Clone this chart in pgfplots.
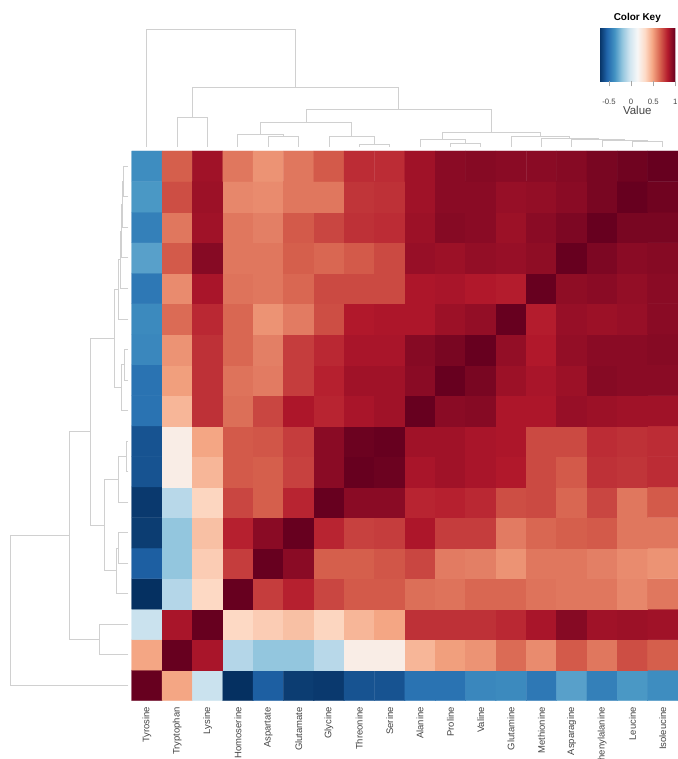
\documentclass[border=0pt]{standalone}
\usepackage{fontspec}
\setmainfont{Liberation Sans}
\usepackage{pgfplots}
\pgfplotsset{compat=1.18}
\definecolor{dendro}{HTML}{D0D0D0}
\definecolor{lab}{HTML}{444444}
\pgfplotsset{dend/.style={draw=dendro, line width=0.9bp, mark=none, line join=miter}}
\begin{document}
\begin{tikzpicture}
\useasboundingbox (0,0) rectangle (678bp,759bp);
% ---------------- heatmap ----------------
\begin{axis}[
  name=main,
  at={(131.7bp,58.3bp)}, anchor=south west,
  scale only axis, width=546.3bp, height=549.7bp,
  xmin=0.5, xmax=18.5, ymin=0.5, ymax=18.5,
  xtick={1,...,18},
  xticklabels={Tyrosine,Tryptophan,Lysine,Homoserine,Aspartate,Glutamate,Glycine,Threonine,Serine,Alanine,Proline,Valine,Glutamine,Methionine,Asparagine,Phenylalanine,Leucine,Isoleucine},
  ytick=\empty,
  xticklabel style={rotate=90, anchor=east, font=\fontsize{9.5}{10}\selectfont, text=lab},
  xticklabel shift=3bp,
  tick style={draw=none},
  axis line style={draw=none},
  colormap={rdbu}{rgb255=(5,48,97) rgb255=(33,102,172) rgb255=(67,147,195) rgb255=(146,197,222) rgb255=(209,229,240) rgb255=(247,247,247) rgb255=(253,219,199) rgb255=(244,165,130) rgb255=(214,96,77) rgb255=(178,24,43) rgb255=(103,0,31)},
  point meta min=-0.72, point meta max=1,
  colorbar horizontal,
  colorbar/width=53.4bp,
  colorbar style={
    at={(parent axis.north east)}, anchor=south east, xshift=-2.7bp, yshift=78bp,
    scale only axis, width=76bp,
    xtick={-0.5,0,0.5,1},
    xtick pos=left,
    xticklabel style={font=\fontsize{7.8}{8}\selectfont, text=lab},
    xticklabel shift=9bp,
    /pgf/number format/assume math mode=true,
    xtick align=outside, major tick length=5bp, tick style={draw=black!35, line width=0.7bp},
    axis line style={draw=none},
    xlabel={Value}, xlabel style={font=\fontsize{11.5}{12}\selectfont, text=lab, yshift=5bp},
    title={Color Key}, title style={font=\bfseries\fontsize{10}{11}\selectfont, yshift=-4bp},
  },
]
\addplot[matrix plot*, mesh/cols=18, point meta=explicit] coordinates {
(1,1)[1.00] (2,1)[0.48] (3,1)[-0.05] (4,1)[-0.72] (5,1)[-0.57] (6,1)[-0.68] (7,1)[-0.69] (8,1)[-0.61] (9,1)[-0.61] (10,1)[-0.50] (11,1)[-0.50] (12,1)[-0.42] (13,1)[-0.41] (14,1)[-0.48] (15,1)[-0.33] (16,1)[-0.45] (17,1)[-0.36] (18,1)[-0.40]

(1,2)[0.48] (2,2)[1.00] (3,2)[0.85] (4,2)[-0.11] (5,2)[-0.20] (6,2)[-0.20] (7,2)[-0.10] (8,2)[0.20] (9,2)[0.20] (10,2)[0.43] (11,2)[0.50] (12,2)[0.53] (13,2)[0.63] (14,2)[0.55] (15,2)[0.67] (16,2)[0.60] (17,2)[0.70] (18,2)[0.66]

(1,3)[-0.05] (2,3)[0.85] (3,3)[1.00] (4,3)[0.32] (5,3)[0.36] (6,3)[0.40] (7,3)[0.33] (8,3)[0.43] (9,3)[0.48] (10,3)[0.77] (11,3)[0.77] (12,3)[0.77] (13,3)[0.79] (14,3)[0.85] (15,3)[0.93] (16,3)[0.87] (17,3)[0.88] (18,3)[0.87]

(1,4)[-0.72] (2,4)[-0.11] (3,4)[0.32] (4,4)[1.00] (5,4)[0.74] (6,4)[0.81] (7,4)[0.72] (8,4)[0.67] (9,4)[0.67] (10,4)[0.62] (11,4)[0.61] (12,4)[0.64] (13,4)[0.64] (14,4)[0.61] (15,4)[0.60] (16,4)[0.60] (17,4)[0.56] (18,4)[0.60]

(1,5)[-0.57] (2,5)[-0.20] (3,5)[0.36] (4,5)[0.74] (5,5)[1.00] (6,5)[0.92] (7,5)[0.66] (8,5)[0.66] (9,5)[0.68] (10,5)[0.72] (11,5)[0.59] (12,5)[0.58] (13,5)[0.53] (14,5)[0.60] (15,5)[0.60] (16,5)[0.58] (17,5)[0.55] (18,5)[0.53]

(1,6)[-0.68] (2,6)[-0.20] (3,6)[0.40] (4,6)[0.81] (5,6)[0.92] (6,6)[1.00] (7,6)[0.80] (8,6)[0.73] (9,6)[0.74] (10,6)[0.84] (11,6)[0.74] (12,6)[0.74] (13,6)[0.59] (14,6)[0.64] (15,6)[0.66] (16,6)[0.67] (17,6)[0.60] (18,6)[0.60]

(1,7)[-0.69] (2,7)[-0.10] (3,7)[0.33] (4,7)[0.72] (5,7)[0.66] (6,7)[0.80] (7,7)[1.00] (8,7)[0.92] (9,7)[0.92] (10,7)[0.80] (11,7)[0.81] (12,7)[0.79] (13,7)[0.70] (14,7)[0.71] (15,7)[0.64] (16,7)[0.72] (17,7)[0.60] (18,7)[0.67]

(1,8)[-0.61] (2,8)[0.20] (3,8)[0.43] (4,8)[0.67] (5,8)[0.66] (6,8)[0.73] (7,8)[0.92] (8,8)[1.00] (9,8)[0.99] (10,8)[0.85] (11,8)[0.87] (12,8)[0.85] (13,8)[0.83] (14,8)[0.71] (15,8)[0.67] (16,8)[0.77] (17,8)[0.76] (18,8)[0.78]

(1,9)[-0.61] (2,9)[0.20] (3,9)[0.48] (4,9)[0.67] (5,9)[0.68] (6,9)[0.74] (7,9)[0.92] (8,9)[0.99] (9,9)[1.00] (10,9)[0.87] (11,9)[0.87] (12,9)[0.85] (13,9)[0.84] (14,9)[0.71] (15,9)[0.71] (16,9)[0.78] (17,9)[0.77] (18,9)[0.78]

(1,10)[-0.50] (2,10)[0.43] (3,10)[0.77] (4,10)[0.62] (5,10)[0.72] (6,10)[0.84] (7,10)[0.80] (8,10)[0.85] (9,10)[0.87] (10,10)[1.00] (11,10)[0.92] (12,10)[0.93] (13,10)[0.84] (14,10)[0.84] (15,10)[0.89] (16,10)[0.88] (17,10)[0.87] (18,10)[0.87]

(1,11)[-0.50] (2,11)[0.50] (3,11)[0.77] (4,11)[0.61] (5,11)[0.59] (6,11)[0.74] (7,11)[0.81] (8,11)[0.87] (9,11)[0.87] (10,11)[0.92] (11,11)[1.00] (12,11)[0.96] (13,11)[0.88] (14,11)[0.85] (15,11)[0.88] (16,11)[0.93] (17,11)[0.92] (18,11)[0.92]

(1,12)[-0.42] (2,12)[0.53] (3,12)[0.77] (4,12)[0.64] (5,12)[0.58] (6,12)[0.74] (7,12)[0.79] (8,12)[0.85] (9,12)[0.85] (10,12)[0.93] (11,12)[0.96] (12,12)[1.00] (13,12)[0.90] (14,12)[0.83] (15,12)[0.90] (16,12)[0.92] (17,12)[0.92] (18,12)[0.93]

(1,13)[-0.41] (2,13)[0.63] (3,13)[0.79] (4,13)[0.64] (5,13)[0.53] (6,13)[0.59] (7,13)[0.70] (8,13)[0.83] (9,13)[0.84] (10,13)[0.84] (11,13)[0.88] (12,13)[0.90] (13,13)[1.00] (14,13)[0.82] (15,13)[0.89] (16,13)[0.88] (17,13)[0.89] (18,13)[0.92]

(1,14)[-0.48] (2,14)[0.55] (3,14)[0.85] (4,14)[0.61] (5,14)[0.60] (6,14)[0.64] (7,14)[0.71] (8,14)[0.71] (9,14)[0.71] (10,14)[0.84] (11,14)[0.85] (12,14)[0.83] (13,14)[0.82] (14,14)[1.00] (15,14)[0.91] (16,14)[0.92] (17,14)[0.90] (18,14)[0.92]

(1,15)[-0.33] (2,15)[0.67] (3,15)[0.93] (4,15)[0.60] (5,15)[0.60] (6,15)[0.66] (7,15)[0.64] (8,15)[0.67] (9,15)[0.71] (10,15)[0.89] (11,15)[0.88] (12,15)[0.90] (13,15)[0.89] (14,15)[0.91] (15,15)[1.00] (16,15)[0.95] (17,15)[0.92] (18,15)[0.93]

(1,16)[-0.45] (2,16)[0.60] (3,16)[0.87] (4,16)[0.60] (5,16)[0.58] (6,16)[0.67] (7,16)[0.72] (8,16)[0.77] (9,16)[0.78] (10,16)[0.88] (11,16)[0.93] (12,16)[0.92] (13,16)[0.88] (14,16)[0.92] (15,16)[0.95] (16,16)[1.00] (17,16)[0.96] (18,16)[0.96]

(1,17)[-0.36] (2,17)[0.70] (3,17)[0.88] (4,17)[0.56] (5,17)[0.55] (6,17)[0.60] (7,17)[0.60] (8,17)[0.76] (9,17)[0.77] (10,17)[0.87] (11,17)[0.92] (12,17)[0.92] (13,17)[0.89] (14,17)[0.90] (15,17)[0.92] (16,17)[0.96] (17,17)[1.00] (18,17)[0.98]

(1,18)[-0.40] (2,18)[0.66] (3,18)[0.87] (4,18)[0.60] (5,18)[0.53] (6,18)[0.60] (7,18)[0.67] (8,18)[0.78] (9,18)[0.78] (10,18)[0.87] (11,18)[0.92] (12,18)[0.93] (13,18)[0.92] (14,18)[0.92] (15,18)[0.93] (16,18)[0.96] (17,18)[0.98] (18,18)[1.00]
};
\end{axis}
% ---------------- top dendrogram ----------------
\begin{axis}[
  at={(131.7bp,612.3bp)}, anchor=south west,
  scale only axis, width=546.3bp, height=120bp,
  xmin=0.5, xmax=18.5, ymin=0, ymax=120,
  hide axis, clip=false,
]
\addplot[dend] coordinates {(8,0) (8,2.3) (9,2.3) (9,0)};
\addplot[dend] coordinates {(5,0) (5,10.3) (6,10.3) (6,0)};
\addplot[dend] coordinates {(4,0) (4,12) (5.5,12) (5.5,10.3)};
\addplot[dend] coordinates {(7,0) (7,10.3) (8.5,10.3) (8.5,2.3)};
\addplot[dend] coordinates {(4.75,12) (4.75,24.3) (7.75,24.3) (7.75,10.3)};
\addplot[dend] coordinates {(11,0) (11,3.7) (12,3.7) (12,0)};
\addplot[dend] coordinates {(10,0) (10,7) (11.5,7) (11.5,3.7)};
\addplot[dend] coordinates {(17,0) (17,5) (18,5) (18,0)};
\addplot[dend] coordinates {(16,0) (16,6) (17.5,6) (17.5,5)};
\addplot[dend] coordinates {(15,0) (15,7) (16.75,7) (16.75,6)};
\addplot[dend] coordinates {(14,0) (14,8) (15.875,8) (15.875,7)};
\addplot[dend] coordinates {(13,0) (13,10.3) (14.9375,10.3) (14.9375,8)};
\addplot[dend] coordinates {(10.75,7) (10.75,14.3) (13.96875,14.3) (13.96875,10.3)};
\addplot[dend] coordinates {(6.25,24.3) (6.25,37.7) (12.359375,37.7) (12.359375,14.3)};
\addplot[dend] coordinates {(2,0) (2,29.3) (3,29.3) (3,0)};
\addplot[dend] coordinates {(2.5,29.3) (2.5,59.3) (9.3046875,59.3) (9.3046875,37.7)};
\addplot[dend] coordinates {(1,0) (1,117.7) (5.90234375,117.7) (5.90234375,59.3)};
\end{axis}
% ---------------- left dendrogram ----------------
\begin{axis}[
  at={(128.3bp,58.3bp)}, anchor=south east,
  scale only axis, width=120bp, height=549.7bp,
  x dir=reverse, xmin=0, xmax=120, ymin=0.5, ymax=18.5,
  hide axis, clip=false,
]
\addplot[dend] coordinates {(0,8) (2.3,8) (2.3,9) (0,9)};
\addplot[dend] coordinates {(0,5) (10.3,5) (10.3,6) (0,6)};
\addplot[dend] coordinates {(0,4) (12,4) (12,5.5) (10.3,5.5)};
\addplot[dend] coordinates {(0,7) (10.3,7) (10.3,8.5) (2.3,8.5)};
\addplot[dend] coordinates {(12,4.75) (24.3,4.75) (24.3,7.75) (10.3,7.75)};
\addplot[dend] coordinates {(0,11) (3.7,11) (3.7,12) (0,12)};
\addplot[dend] coordinates {(0,10) (7,10) (7,11.5) (3.7,11.5)};
\addplot[dend] coordinates {(0,17) (5,17) (5,18) (0,18)};
\addplot[dend] coordinates {(0,16) (6,16) (6,17.5) (5,17.5)};
\addplot[dend] coordinates {(0,15) (7,15) (7,16.75) (6,16.75)};
\addplot[dend] coordinates {(0,14) (8,14) (8,15.875) (7,15.875)};
\addplot[dend] coordinates {(0,13) (10.3,13) (10.3,14.9375) (8,14.9375)};
\addplot[dend] coordinates {(7,10.75) (14.3,10.75) (14.3,13.96875) (10.3,13.96875)};
\addplot[dend] coordinates {(24.3,6.25) (37.7,6.25) (37.7,12.359375) (14.3,12.359375)};
\addplot[dend] coordinates {(0,2) (29.3,2) (29.3,3) (0,3)};
\addplot[dend] coordinates {(29.3,2.5) (59.3,2.5) (59.3,9.3046875) (37.7,9.3046875)};
\addplot[dend] coordinates {(0,1) (117.7,1) (117.7,5.90234375) (59.3,5.90234375)};
\end{axis}
\end{tikzpicture}
\end{document}
